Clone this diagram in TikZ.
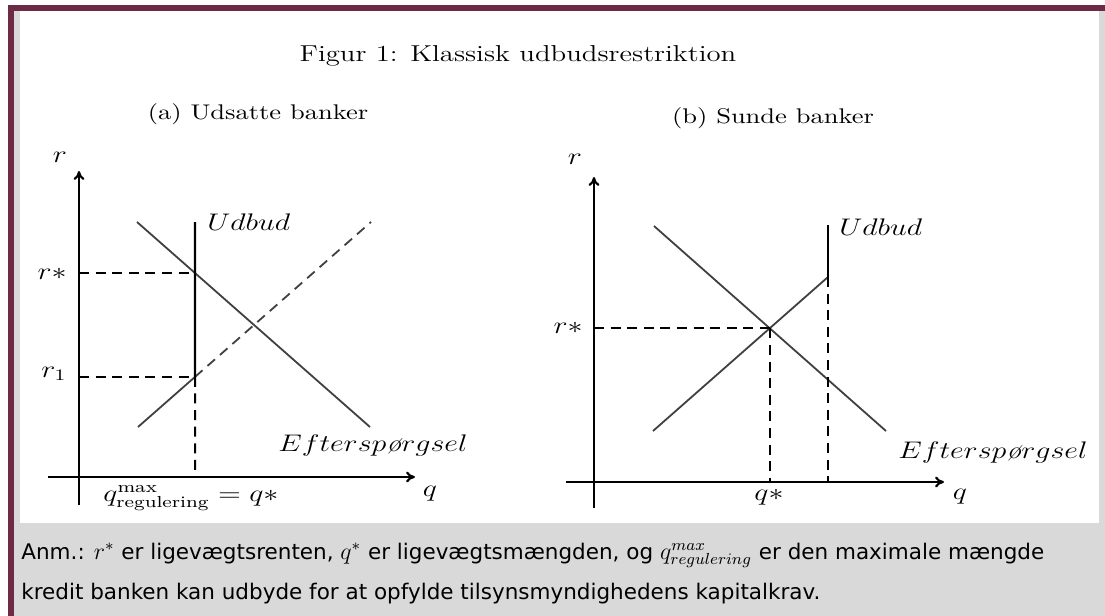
\documentclass[tikz,border=0pt]{standalone}
\usepackage{fontspec}
\usepackage{graphicx}
\usetikzlibrary{arrows.meta, calc}
\newfontfamily\notefont{DejaVu Sans}
\definecolor{framered}{RGB}{108,42,68}
\definecolor{framegray}{RGB}{217,217,217}
\newcommand{\wide}[1]{\scalebox{1.25}[1]{#1}}
\newcommand{\itoe}{\mbox{\itshape\o}}
\newcommand{\notemath}[1]{{\fontsize{12}{13}\selectfont$#1$}}

\begin{document}
\begin{tikzpicture}[
  x=0.5pt, y=-0.5pt,
  >={To[length=4.5pt,width=5.5pt]},
  axis/.style={line width=1.1pt, ->},
  curve/.style={line width=0.9pt, black!75},
  limitline/.style={line width=1.1pt},
  guide/.style={line width=1pt, dash pattern=on 5pt off 3.3pt},
  mlbl/.style={inner sep=0pt, font=\fontsize{12}{14}\selectfont},
  head/.style={inner sep=0pt, anchor=base},
  note/.style={inner sep=0pt, anchor=base west, font=\notefont\fontsize{10.75}{13}\selectfont},
]

% ---- frame: white panel on grey, dark red edge ----
\fill[white] (0,0) rectangle (1105,616);
\fill[framegray] (14,11) rectangle (1105,616);
\fill[framered] (8,5) rectangle (1105,11);
\fill[framered] (8,5) rectangle (14,616);
\fill[white] (20,11) rectangle (1099,523);
\useasboundingbox (0,0) rectangle (1105,616);

% ---- headings ----
\node[head, font=\fontsize{11.5}{14}\selectfont] (title) at (518,61)
  {\wide{Figur 1: Klassisk udbudsrestriktion}};
\node[head, font=\fontsize{10.6}{13}\selectfont] (capa) at (258,119)
  {\wide{(a) Udsatte banker}};
\node[head, font=\fontsize{10.6}{13}\selectfont] (capb) at (773,123)
  {\wide{(b) Sunde banker}};

% =====================================================
% (a) UDSATTE BANKER
% =====================================================
\coordinate (a-o)    at (79,477);
\coordinate (a-ytop) at (79,171);
\coordinate (a-ybot) at (79,505);
\coordinate (a-xl)   at (48,477);
\coordinate (a-xr)   at (415,477);
\coordinate (a-d1)   at (137,222);  % demand
\coordinate (a-d2)   at (370,427);
\coordinate (a-s1)   at (138,427);  % supply
\coordinate (a-s2)   at (371,222);
\coordinate (a-lim)  at (195,222);  % regulatory limit
\coordinate (a-qmax) at (195,477);
\coordinate (a-eq) at (intersection of a-d1--a-d2 and a-lim--a-qmax);
\coordinate (a-r1) at (intersection of a-s1--a-s2 and a-lim--a-qmax);

\draw[axis] (a-ybot) -- (a-ytop);
\draw[axis] (a-xl) -- (a-xr);

\draw[curve] (a-d1) -- (a-d2);
\draw[curve] (a-s1) -- (a-r1);
\draw[curve, guide, line width=0.9pt] (a-r1) -- (a-s2);
\draw[limitline] (a-lim) -- (a-r1);
\draw[guide] (a-r1) -- (a-qmax);
\draw[guide] (a-o |- a-eq) -- (a-eq);
\draw[guide] (a-o |- a-r1) -- (a-r1);

\node[mlbl] (a-rlab) at (60,157) {\wide{$r$}};
\node[mlbl] (a-qlab) at (430,494) {\wide{$q$}};
\node[mlbl, anchor=east] (a-rstar) at (67,274) {\wide{$r*$}};
\node[mlbl, anchor=east] (a-rone) at (67,374) {\wide{$r_1$}};
\node[mlbl, anchor=west] (a-udbud) at (207,222) {\wide{$Udbud$}};
\node[mlbl, anchor=west] (a-eft) at (278,445) {\wide{$Eftersp\itoe rgsel$}};
\node[mlbl, anchor=west] (a-qreg) at (103,498)
  {\wide{$q^{\mathrm{max}}_{\mathrm{regulering}} = q*$}};

% =====================================================
% (b) SUNDE BANKER
% =====================================================
\coordinate (b-o)    at (594,482);
\coordinate (b-ytop) at (594,177);
\coordinate (b-ybot) at (594,508);
\coordinate (b-xl)   at (566,482);
\coordinate (b-xr)   at (944,482);
\coordinate (b-d1)   at (654,226);  % demand
\coordinate (b-d2)   at (886,431);
\coordinate (b-s1)   at (653,431);  % supply
\coordinate (b-kink) at (828,277);
\coordinate (b-lim)  at (828,225);
\coordinate (b-eq) at (intersection of b-d1--b-d2 and b-s1--b-kink);

\draw[axis] (b-ybot) -- (b-ytop);
\draw[axis] (b-xl) -- (b-xr);

\draw[curve] (b-d1) -- (b-d2);
\draw[curve] (b-s1) -- (b-kink);
\draw[limitline] (b-lim) -- (b-kink);
\draw[guide] (b-kink) -- (b-kink |- b-o);
\draw[guide] (b-eq) -- (b-eq |- b-o);
\draw[guide] (b-o |- b-eq) -- (b-eq);

\node[mlbl] (b-rlab) at (575,159) {\wide{$r$}};
\node[mlbl] (b-qlab) at (960,497) {\wide{$q$}};
\node[mlbl, anchor=east] (b-rstar) at (583,328) {\wide{$r*$}};
\node[mlbl] (b-qstar) at (769,497) {\wide{$q*$}};
\node[mlbl, anchor=west] (b-udbud) at (839,227) {\wide{$Udbud$}};
\node[mlbl, anchor=west] (b-eft) at (898,452) {\wide{$Eftersp\itoe rgsel$}};

% ---- note under the figure ----
\node[note] (note1) at (21,559)
  {Anm.: \notemath{r^*} er ligevægtsrenten, \notemath{q^*} er ligevægtsmængden, og \notemath{q^{max}_{regulering}} er den maximale mængde};
\node[note] (note2) at (21,599)
  {kredit banken kan udbyde for at opfylde tilsynsmyndighedens kapitalkrav.};

\end{tikzpicture}
\end{document}
